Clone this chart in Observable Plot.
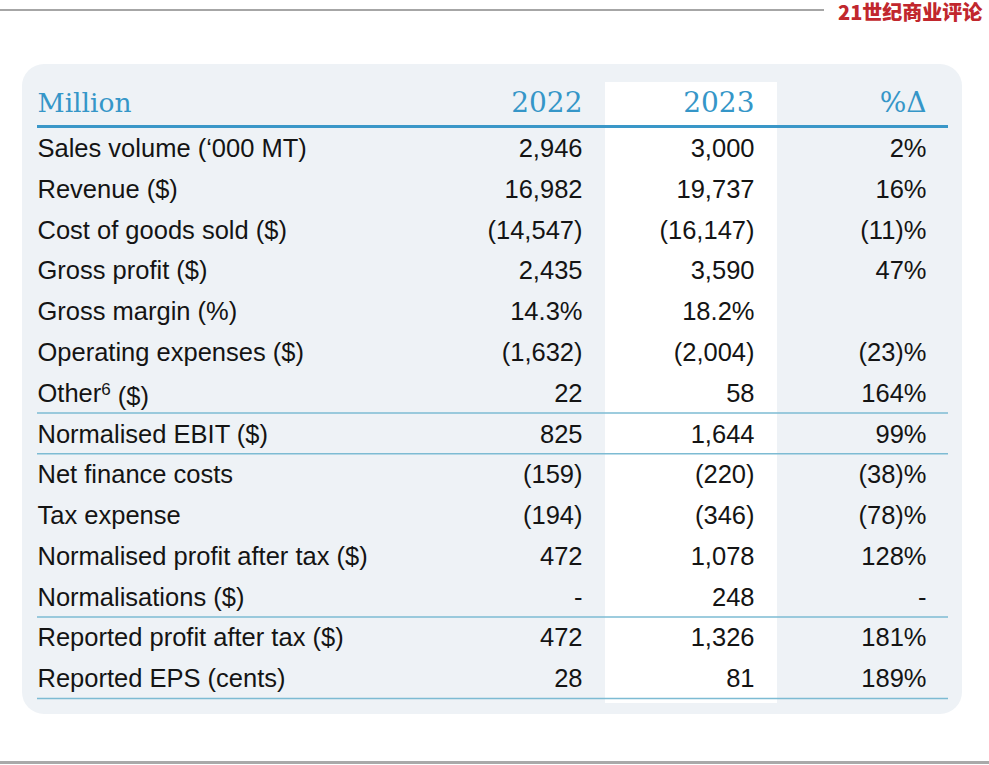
<!DOCTYPE html>
<html><head><meta charset="utf-8">
<script src="https://cdn.jsdelivr.net/npm/d3@7"></script>
<script src="https://cdn.jsdelivr.net/npm/@observablehq/plot@0.6"></script>
<style>
html,body{margin:0;padding:0;background:#fff;}
#page{position:relative;width:989px;height:765px;overflow:hidden;}
#topline{position:absolute;left:0;top:9px;width:824px;height:2px;background:#a6a6a6;}
#logo{position:absolute;left:838px;top:2px;font-family:"Noto Sans CJK SC";font-weight:900;font-size:20px;line-height:20px;color:#c1272d;white-space:nowrap;letter-spacing:0px;}
#panel{position:absolute;left:22px;top:64px;width:940px;height:650px;border-radius:22px;background:#eef2f6;}
#bottomline{position:absolute;left:0;top:761px;width:989px;height:3px;background:#a9a9a9;}
#chart{position:absolute;left:0;top:0;}
</style></head>
<body>
<div id="page">
  <div id="topline"></div>
  <div id="panel"></div>
  <div id="chart"></div>
  <div id="bottomline"></div>
  <div id="logo">21世纪商业评论</div>
</div>
<script>
// ---- data ----
const headerLabel = "Million";
const columns = ["2022", "2023", "%Δ"];
const rowLabels = [
  "Sales volume (‘000 MT)", "Revenue ($)", "Cost of goods sold ($)", "Gross profit ($)",
  "Gross margin (%)", "Operating expenses ($)", "Other⁶ ($)", "Normalised EBIT ($)",
  "Net finance costs", "Tax expense", "Normalised profit after tax ($)",
  "Normalisations ($)", "Reported profit after tax ($)", "Reported EPS (cents)"
];
const values2022 = ["2,946","16,982","(14,547)","2,435","14.3%","(1,632)","22","825","(159)","(194)","472","-","472","28"];
const values2023 = ["3,000","19,737","(16,147)","3,590","18.2%","(2,004)","58","1,644","(220)","(346)","1,078","248","1,326","81"];
const pctChange  = ["2%","16%","(11)%","47%","","(23)%","164%","99%","(38)%","(78)%","128%","-","181%","189%"];
const separatorAfter = ["Other⁶ ($)", "Normalised EBIT ($)", "Normalisations ($)", "Reported EPS (cents)"];

// ---- table built from the arrays ----
const series = [values2022, values2023, pctChange];
const cells = rowLabels.flatMap((row, i) => columns.map((col, j) => ({row, col, text: series[j][i]})));

const bodyFont = "Liberation Sans, Arial, sans-serif";
const headFont = "DejaVu Serif, serif";
const teal = "#3596c8";

const tableTop = 127, tableBottom = 698;
const bw = (tableBottom - tableTop) / rowLabels.length;

const chart = Plot.plot({
  width: 989,
  height: 765,
  marginLeft: 37,
  marginRight: 41,
  marginTop: tableTop,
  marginBottom: 765 - tableBottom,
  style: {background: "transparent"},
  x: {type: "band", domain: columns, range: [433, 949], padding: 0, round: false, axis: null},
  y: {type: "band", domain: rowLabels, padding: 0, round: false, axis: null},
  marks: [
    Plot.cell([columns[1]], {x: d => d, fill: "#ffffff", insetTop: -45, insetBottom: -5}),
    Plot.ruleY(separatorAfter, {y: d => d, dy: bw / 2, stroke: "#7dbbd3", strokeWidth: 1.5}),
    Plot.ruleY([rowLabels[0]], {y: d => d, dy: -bw / 2 - 1, stroke: "#3a97c8", strokeWidth: 3}),
    Plot.text([headerLabel], {text: d => d, frameAnchor: "top-left", textAnchor: "start", lineAnchor: "middle", dy: -24, fontFamily: headFont, fontSize: 26.5, fill: teal}),
    Plot.text(columns, {x: d => d, text: d => d, frameAnchor: "top", textAnchor: "end", lineAnchor: "middle", dx: 63, dy: -24, fontFamily: headFont, fontSize: 28, fill: teal}),
    Plot.text(rowLabels, {y: d => d, text: d => d, frameAnchor: "left", textAnchor: "start", dy: 1, fontFamily: bodyFont, fontSize: 25.5, fill: "#141414"}),
    Plot.text(cells, {x: "col", y: "row", text: "text", textAnchor: "end", dx: 63, dy: 1, fontFamily: bodyFont, fontSize: 25.5, fill: "#141414"})
  ]
});

// render the footnote marker in "Other⁶ ($)" as a real superscript
d3.select(chart).selectAll("text").filter(function() { return this.textContent === "Other⁶ ($)"; })
  .each(function() {
    const t = d3.select(this);
    t.text(null);
    t.append("tspan").text("Other");
    t.append("tspan").attr("dy", "-0.38em").attr("font-size", "17px").text("6");
    t.append("tspan").attr("dy", "0.38em").text(" ($)");
  });

document.getElementById("chart").appendChild(chart);
</script>
</body></html>
